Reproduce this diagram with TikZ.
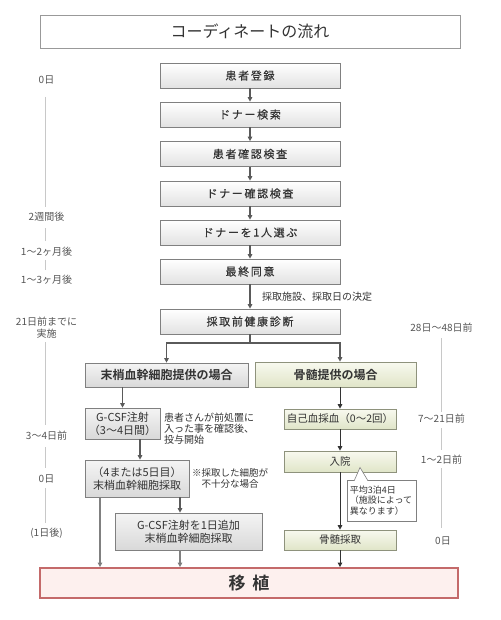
\documentclass[tikz,border=0pt]{standalone}
\usepackage{fontspec}
\setmainfont{Noto Sans CJK JP}[BoldFont={Noto Sans CJK JP Bold}]
\newfontfamily\spacedfont{Noto Sans CJK JP}[LetterSpace=15,FakeBold=0.25]
\usetikzlibrary{arrows.meta,shadows,calc}
\definecolor{txt}{HTML}{333333}
\definecolor{boxline}{HTML}{808080}
\definecolor{graybot}{HTML}{E2E2E2}
\definecolor{hdrtop}{HTML}{F4F4F4}
\definecolor{hdrbot}{HTML}{D9D9D9}
\definecolor{greentop}{HTML}{F8F9EF}
\definecolor{greenbot}{HTML}{E0E5C8}
\definecolor{greenline}{HTML}{8E927C}
\definecolor{tpfill}{HTML}{FDF0EE}
\definecolor{tpline}{HTML}{C46A6A}
\definecolor{arrc}{HTML}{5A5A5A}
\definecolor{arrgray}{HTML}{808080}
\definecolor{arrdark}{HTML}{333333}
\definecolor{tlc}{HTML}{C8C8C8}
\definecolor{labc}{HTML}{555555}
\definecolor{titleline}{HTML}{999999}
\begin{document}
\begin{tikzpicture}[x=1pt,y=-1pt,
  shad/.style={drop shadow={opacity=0.22,shadow xshift=0.8pt,shadow yshift=-0.9pt}},
  titlebox/.style={draw=titleline,line width=0.8pt,fill=white,minimum width=420pt,minimum height=33pt,inner sep=0pt,font=\fontsize{16}{18}\selectfont,text=txt},
  mainbox/.style={draw=boxline,line width=0.7pt,top color=white,bottom color=graybot,minimum width=180pt,minimum height=25pt,inner sep=0pt,font=\spacedfont\fontsize{11}{13}\selectfont,text=txt,shad},
  graybox/.style={draw=boxline,line width=0.7pt,top color=hdrtop,bottom color=hdrbot,inner sep=0pt,align=center,font=\fontsize{11}{13}\selectfont,text=txt,shad},
  greenbox/.style={draw=greenline,line width=0.7pt,top color=greentop,bottom color=greenbot,inner sep=0pt,align=center,font=\fontsize{10.5}{12}\selectfont,text=txt,shad},
  hdrfont/.style={font=\bfseries\fontsize{12}{14}\selectfont},
  arr/.style={draw=arrc,line width=1.2pt,-{Triangle[length=4.5pt,width=4.5pt]}},
  arrg/.style={draw=arrgray,line width=1.2pt,-{Triangle[length=4.5pt,width=4.5pt,fill=arrc]}},
  arrd/.style={draw=arrdark,line width=1pt,-{Triangle[length=4.5pt,width=4.5pt]}},
  plainline/.style={draw=arrc,line width=1.2pt},
  note/.style={inner sep=0pt,text=txt,font=\fontsize{10}{11}\selectfont},
  tl/.style={draw=tlc,line width=0.8pt},
  tlab/.style={inner sep=1pt,text=labc,align=center,font=\fontsize{10}{12}\selectfont},
  tpbox/.style={draw=tpline,line width=1.8pt,fill=tpfill,minimum width=418pt,minimum height=30pt,inner sep=0pt,font=\bfseries\fontsize{17}{19}\selectfont,text=txt}
]
\useasboundingbox (0,0) rectangle (500,620);
\fill[white] (0,0) rectangle (500,620);

% title
\node[titlebox] (title) at (250,31.5) {コーディネートの流れ};

% main column
\node[mainbox] (m1) at (250,75.5) {患者登録};
\node[mainbox] (m2) at (250,114.5) {ドナー検索};
\node[mainbox] (m3) at (250,154) {患者確認検査};
\node[mainbox] (m4) at (250,193.5) {ドナー確認検査};
\node[mainbox] (m5) at (250,232.5) {ドナーを1人選ぶ};
\node[mainbox] (m6) at (250,271.5) {最終同意};
\node[mainbox] (m7) at (250,321.5) {採取前健康診断};
\draw[arr] (m1) -- (m2);
\draw[arr] (m2) -- (m3);
\draw[arr] (m3) -- (m4);
\draw[arr] (m4) -- (m5);
\draw[arr] (m5) -- (m6);
\draw[arr] (m6) -- (m7);
\node[note,anchor=west] (decide) at (262,297) {採取施設、採取日の決定};

% headers
\node[graybox,hdrfont,minimum width=163pt,minimum height=24pt] (hL) at (166.5,375) {末梢血幹細胞提供の場合};
\node[greenbox,hdrfont,minimum width=161pt,minimum height=25pt] (hR) at (335.5,374.5) {骨髄提供の場合};

% right column boxes
\node[greenbox,minimum width=112pt,minimum height=20pt] (jk) at (340,419) {自己血採血（0～2回）};
\node[greenbox,minimum width=112pt,minimum height=21pt] (nyu) at (340,461.5) {入院};
\node[greenbox,minimum width=112pt,minimum height=20pt] (kotsu) at (340,540) {骨髄採取};

% branch
\coordinate (br) at (250,343);
\draw[plainline] (m7.south) -- (br);
\draw[arr] (br) -| (hL.north);
\draw[arr] (br) -| (jk.north |- hR.north);

% left column
\node[graybox,minimum width=75pt,minimum height=31pt] (gcsf) at (122.5,423.5) {G-CSF注射\\（3～4日間）};
\node[note,anchor=west,align=left] (note1) at (164,428.5) {患者さんが前処置に\\入った事を確認後、\\投与開始};
\node[graybox,minimum width=104pt,minimum height=37pt] (b45) at (137,478.5) {（4または5日目）\\末梢血幹細胞採取};
\node[note,align=center,font=\fontsize{9.5}{11}\selectfont] (note2) at (230,478.5) {※採取した細胞が\\不十分な場合};
\node[graybox,minimum width=147pt,minimum height=37pt] (add) at (188.5,531.5) {G-CSF注射を1日追加\\末梢血幹細胞採取};

% transplant
\node[tpbox] (tp) at (249,583) {移\hspace{7pt}植};

\coordinate (xa) at (140,0);
\coordinate (xb) at (180,0);
\coordinate (xc) at (100,0);
\draw[arr] (gcsf.north |- hL.south) -- (gcsf.north);
\draw[arr] (gcsf.south -| xa) -- (b45.north -| xa);
\draw[arr] (b45.south -| xb) -- (add.north -| xb);
\draw[arrg] (b45.south -| xc) -- (tp.north -| xc);
\draw[arrg] (add.south -| xb) -- (tp.north -| xb);

% right column arrows
\draw[arrd] (jk.north |- hR.south) -- (jk.north);
\draw[arrd] (jk) -- (nyu);
\draw[arrd] (nyu) -- (kotsu);
\draw[arrd] (kotsu.south) -- (tp.north -| kotsu);

% callout
\node[draw=boxline,line width=0.6pt,fill=white,minimum width=69pt,minimum height=41pt,inner sep=0pt] (co) at (381.5,500.5) {};
\node[inner sep=0pt,align=left,anchor=west,text=txt,font=\fontsize{9}{10.2}\selectfont] (cotext) at ($(co.west)+(3,0)$) {平均3泊4日\\（施設によって\\異なります）};
\fill[white] (354.5,481) -- (360,467.5) -- (367.5,481) -- cycle;
\draw[boxline,line width=0.6pt,line join=miter] (354.5,480) -- (360,467.5) -- (367.5,480);

% left timeline
\node[tlab] (l0) at (46.5,80) {0日};
\node[tlab] (l1) at (46.5,217) {2週間後};
\node[tlab] (l2) at (46.5,252) {1～2ヶ月後};
\node[tlab] (l3) at (46.5,280) {1～3ヶ月後};
\node[tlab] (l4) at (46.5,328) {21日前までに\\実施};
\node[tlab] (l5) at (46.5,436) {3～4日前};
\node[tlab] (l6) at (46.5,479) {0日};
\node[tlab] (l7) at (46.5,533) {(1日後)};
\draw[tl] (45.5,97) -- (45.5,207);
\draw[tl] (45.5,228) -- (45.5,241);
\draw[tl] (45.5,260) -- (45.5,270);
\draw[tl] (45.5,342) -- (45.5,425);
\draw[tl] (45.5,447) -- (45.5,468);
\draw[tl] (45.5,488) -- (45.5,523);

% right timeline
\node[tlab] (r0) at (441.5,328) {28日～48日前};
\node[tlab] (r1) at (441.5,419) {7～21日前};
\node[tlab] (r2) at (441.5,460) {1～2日前};
\node[tlab] (r3) at (443,541) {0日};
\draw[tl] (441.5,338) -- (441.5,412);
\draw[tl] (441.5,428) -- (441.5,450);
\draw[tl] (441.5,468) -- (441.5,528);
\end{tikzpicture}
\end{document}
